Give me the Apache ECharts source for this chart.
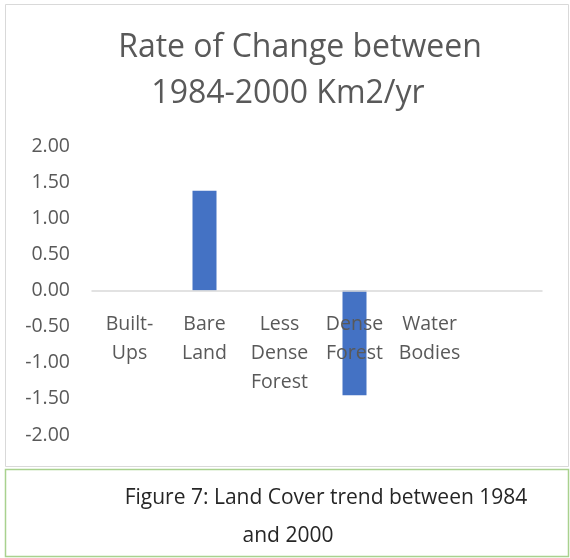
<!DOCTYPE html>
<html>
<head>
<meta charset="utf-8">
<script src="https://cdn.jsdelivr.net/npm/echarts@6/dist/echarts.min.js"></script>
<style>
  html, body { margin: 0; padding: 0; background: #fff; }
  #chart { width: 570px; height: 558px; }
</style>
</head>
<body>
<div id="chart"></div>
<script>
// 类别 (last one is an empty slot, like the excel sheet)
var categories = ['Built-\nUps', 'Bare\nLand', 'Less\nDense\nForest', 'Dense\nForest', 'Water\nBodies', ''];
// rate of change km2/yr
var rates = [0, 1.38, 0, -1.45, 0, '-'];
var yTicks = { min: -2, max: 2, step: 0.5 };
var titleLines = ['Rate of Change between', '1984-2000 Km2/yr'];
var captionLines = ['Figure 7: Land Cover trend between 1984', 'and 2000'];

var font = 'Open Sans';
var gridTop = 146, gridBottom = 123;
var plotH = 558 - gridTop - gridBottom;
// move the category axis up to the zero line
var zeroOffset = -plotH * (0 - yTicks.min) / (yTicks.max - yTicks.min);

var myChart = echarts.init(document.getElementById('chart'));
var option = {
    backgroundColor: '#fff',
    animation: false,
    title: [
        {text: titleLines[0], left: 300, top: 32, textAlign: 'center', padding: 0,
         textStyle: {fontFamily: font, fontSize: 32, fontWeight: 'normal', color: '#595959'}},
        {text: titleLines[1], left: 288, top: 78, textAlign: 'center', padding: 0,
         textStyle: {fontFamily: font, fontSize: 32, fontWeight: 'normal', color: '#595959'}},
        {text: captionLines[0], left: 326, top: 488, textAlign: 'center', padding: 0,
         textStyle: {fontFamily: font, fontSize: 21, fontWeight: 'normal', color: '#262626'}},
        {text: captionLines[1], left: 288, top: 526, textAlign: 'center', padding: 0,
         textStyle: {fontFamily: font, fontSize: 21, fontWeight: 'normal', color: '#262626'}}
    ],
    graphic: [
        {type: 'rect', shape: {x: 5.5, y: 4.5, width: 563, height: 462}, z: -1,
         style: {fill: 'none', stroke: '#d9d9d9', lineWidth: 1}},
        {type: 'rect', shape: {x: 5.5, y: 469.5, width: 563, height: 87}, z: -1,
         style: {fill: 'none', stroke: '#a9d18e', lineWidth: 1.5}}
    ],
    grid: {left: 92, right: 28, top: gridTop, bottom: gridBottom},
    xAxis: {
        type: 'category',
        data: categories,
        offset: zeroOffset,
        z: 5,
        axisLine: {onZero: false, lineStyle: {color: '#d9d9d9', width: 1.5}},
        axisTick: {show: false},
        axisLabel: {interval: 0, margin: 19, fontFamily: font, fontSize: 19.5, lineHeight: 29, color: '#595959'}
    },
    yAxis: {
        type: 'value',
        min: yTicks.min,
        max: yTicks.max,
        interval: yTicks.step,
        axisLine: {show: false},
        axisTick: {show: false},
        splitLine: {show: false},
        axisLabel: {
            margin: 22, fontFamily: font, fontSize: 19.5, color: '#595959',
            formatter: function (v) { return v.toFixed(2); }
        }
    },
    series: [{
        name: 'Rate of Change',
        type: 'bar',
        data: rates,
        barWidth: 24,
        z: 2,
        itemStyle: {color: '#4472c4'}
    }]
};
myChart.setOption(option);
</script>
</body>
</html>
